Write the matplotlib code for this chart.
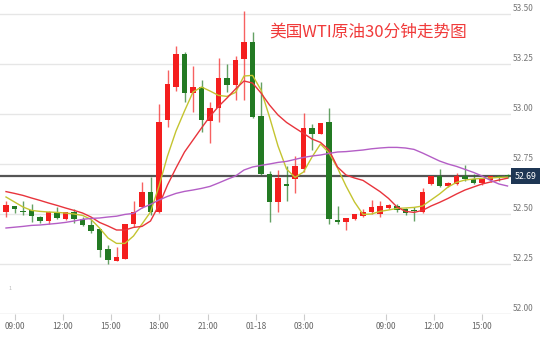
import matplotlib
matplotlib.use("Agg")
import matplotlib.pyplot as plt
import matplotlib.transforms as mtransforms

plt.rcParams['font.family'] = ['Noto Sans CJK SC', 'DejaVu Sans']

title = "美国WTI原油30分钟走势图"

# 30-minute candles
opens = [52.51, 52.54, 52.515, 52.52, 52.485, 52.465, 52.51, 52.475, 52.51, 52.475,
         52.445, 52.425, 52.325, 52.265, 52.275, 52.45, 52.535, 52.61, 52.51, 52.97,
         53.135, 53.30, 53.105, 53.135, 52.965, 53.03, 53.18, 53.145, 53.275, 53.36,
         52.99, 52.70, 52.56, 52.65, 52.675, 52.725, 52.93, 52.90, 52.96, 52.47,
         52.46, 52.475, 52.49, 52.51, 52.50, 52.53, 52.54, 52.525, 52.52, 52.51,
         52.65, 52.69, 52.64, 52.65, 52.69, 52.675, 52.655, 52.67, 52.69, 52.695]
closes = [52.545, 52.525, 52.51, 52.49, 52.465, 52.51, 52.48, 52.51, 52.475, 52.445,
          52.415, 52.32, 52.27, 52.285, 52.45, 52.51, 52.61, 52.51, 52.96, 53.15,
          53.30, 53.105, 53.135, 52.97, 53.03, 53.18, 53.145, 53.27, 53.36, 52.985,
          52.70, 52.56, 52.68, 52.64, 52.74, 52.93, 52.90, 52.955, 52.475, 52.46,
          52.48, 52.50, 52.51, 52.535, 52.54, 52.545, 52.52, 52.505, 52.515, 52.61,
          52.69, 52.64, 52.655, 52.69, 52.675, 52.655, 52.675, 52.69, 52.685, 52.69]
highs = [52.565, 52.54, 52.565, 52.55, 52.49, 52.515, 52.535, 52.51, 52.525, 52.485,
         52.475, 52.425, 52.345, 52.335, 52.45, 52.565, 52.66, 52.685, 53.05, 53.22,
         53.34, 53.31, 53.24, 53.17, 53.06, 53.28, 53.25, 53.29, 53.515, 53.41,
         53.16, 52.715, 52.72, 52.74, 52.79, 53.005, 52.95, 52.955, 53.03, 52.54,
         52.48, 52.50, 52.525, 52.57, 52.565, 52.55, 52.55, 52.53, 52.535, 52.63,
         52.69, 52.725, 52.66, 52.705, 52.745, 52.70, 52.68, 52.69, 52.695, 52.70]
lows = [52.485, 52.505, 52.495, 52.46, 52.455, 52.45, 52.475, 52.47, 52.455, 52.44,
        52.405, 52.285, 52.25, 52.265, 52.275, 52.435, 52.53, 52.495, 52.505, 52.935,
        53.115, 53.06, 53.01, 52.91, 52.855, 52.96, 53.11, 53.07, 53.07, 52.98,
        52.695, 52.46, 52.51, 52.565, 52.605, 52.71, 52.82, 52.90, 52.45, 52.45,
        52.42, 52.47, 52.485, 52.50, 52.485, 52.525, 52.51, 52.495, 52.465, 52.505,
        52.645, 52.635, 52.635, 52.645, 52.665, 52.65, 52.645, 52.66, 52.665, 52.68]

# moving average lines
ma_fast = [52.585, 52.56, 52.535, 52.518, 52.513, 52.51, 52.508, 52.505, 52.50, 52.493,
           52.473, 52.43, 52.38, 52.353, 52.353, 52.39, 52.45, 52.51, 52.64, 52.79,
           52.915, 53.015, 53.11, 53.135, 53.115, 53.093, 53.088, 53.108, 53.19, 53.193,
           53.12, 52.985, 52.84, 52.725, 52.683, 52.71, 52.785, 52.85, 52.805, 52.73,
           52.64, 52.56, 52.498, 52.50, 52.513, 52.52, 52.528, 52.53, 52.533, 52.54,
           52.57, 52.60, 52.635, 52.658, 52.67, 52.675, 52.678, 52.68, 52.683, 52.684]
ma_mid = [52.612, 52.603, 52.593, 52.58, 52.568, 52.555, 52.543, 52.53, 52.518, 52.505,
          52.485, 52.458, 52.44, 52.42, 52.42, 52.433, 52.438, 52.465, 52.545, 52.645,
          52.73, 52.81, 52.87, 52.93, 52.988, 53.038, 53.08, 53.125, 53.165, 53.155,
          53.105, 53.045, 52.995, 52.958, 52.93, 52.903, 52.875, 52.858, 52.82, 52.735,
          52.695, 52.68, 52.668, 52.64, 52.612, 52.578, 52.535, 52.513, 52.508, 52.518,
          52.54, 52.558, 52.578, 52.60, 52.62, 52.635, 52.65, 52.66, 52.67, 52.679]
ma_slow = [52.43, 52.434, 52.438, 52.443, 52.445, 52.449, 52.453, 52.458, 52.465, 52.473,
           52.478, 52.48, 52.485, 52.489, 52.498, 52.503, 52.53, 52.548, 52.57, 52.588,
           52.603, 52.613, 52.62, 52.628, 52.638, 52.655, 52.673, 52.69, 52.72, 52.735,
           52.743, 52.75, 52.758, 52.763, 52.773, 52.783, 52.79, 52.795, 52.803, 52.81,
           52.812, 52.816, 52.82, 52.826, 52.83, 52.833, 52.833, 52.83, 52.823, 52.805,
           52.785, 52.765, 52.75, 52.738, 52.723, 52.708, 52.69, 52.668, 52.65, 52.64]

last_price = 52.69
y_levels = [52.00, 52.25, 52.50, 52.75, 53.00, 53.25, 53.50]
tick_pos = [1.06, 6.71, 12.35, 18.0, 23.76, 29.41, 35.06, 44.7, 50.35, 56.0]
tick_labels = ["09:00", "12:00", "15:00", "18:00", "21:00", "01-18", "03:00",
               "09:00", "12:00", "15:00"]

UP = "#f41e1e"
DOWN = "#237a23"

fig = plt.figure(figsize=(5.5, 3.41), dpi=100)
ax = fig.add_axes([0, 27 / 341, 511 / 550, 314 / 341])
ax.set_xlim(-0.706, 59.41)
ax.set_ylim(52.0, 53.57)

for y in y_levels:
    ax.axhline(y, color="#e6e6e6" if y > 52 else "#d6d6d6", lw=1, zorder=0)

ax.axhline(last_price, color="#555555", lw=1.6, zorder=1)

xs = list(range(len(opens)))
for i in xs:
    o, c, h, l = opens[i], closes[i], highs[i], lows[i]
    col = UP if c >= o else DOWN
    ax.vlines(i, l, h, color=col, lw=1, alpha=0.7, zorder=2)
    body = max(abs(c - o), 0.005)
    ax.bar(i, body, bottom=min(o, c), width=0.7, color=col, lw=0, zorder=3)

ax.plot(xs, ma_fast, color="#c4c430", lw=1.0, zorder=4)
ax.plot(xs, ma_mid, color="#e8343c", lw=1.0, zorder=4)
ax.plot(xs, ma_slow, color="#b45ec6", lw=1.0, zorder=4)

for s in ax.spines.values():
    s.set_visible(False)
ax.set_yticks([])
ax.set_xticks(tick_pos, tick_labels)
ax.tick_params(axis="x", length=4, width=0.8, color="#cccccc", labelsize=6,
               labelcolor="#666666", pad=2)

trans = mtransforms.blended_transform_factory(ax.transAxes, ax.transData)
for y in y_levels:
    ax.text(1.003, y + 0.004, f"{y:.2f}", transform=trans, ha="left", va="bottom",
            fontsize=6, color="#777777", clip_on=False)
ax.text(1.007, last_price, f"{last_price:.2f}", transform=trans, ha="left", va="center",
        fontsize=6.3, color="white", clip_on=False,
        bbox=dict(boxstyle="square,pad=0.4", fc="#1e3654", ec="none"))

fig.text(368 / 550, 1 - 32.5 / 341, title, color="#f03a3a", fontsize=12,
         ha="center", va="center")
fig.text(10 / 550, 1 - 289 / 341, "1", color="#bbbbbb", fontsize=4,
         ha="center", va="center")

fig.savefig("out.png", dpi=100)
